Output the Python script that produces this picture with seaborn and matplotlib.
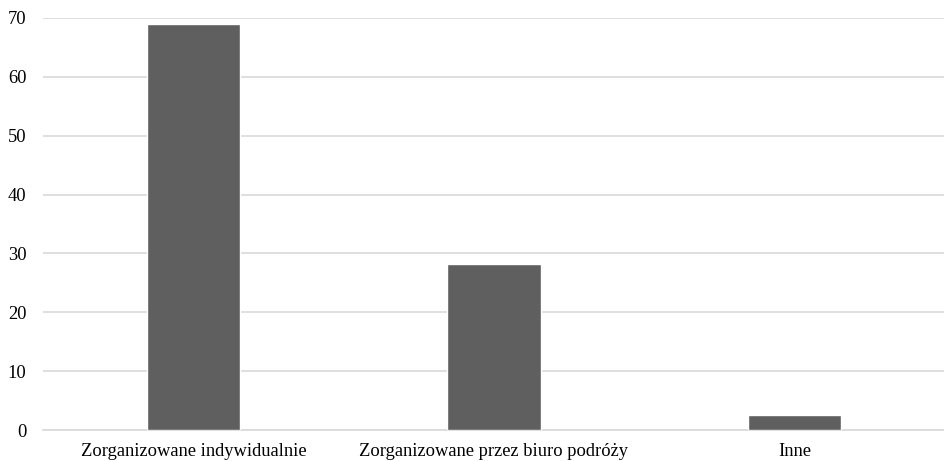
import matplotlib
matplotlib.use("Agg")
import matplotlib.pyplot as plt
import seaborn as sns
import pandas as pd

categories = ["Zorganizowane indywidualnie", "Zorganizowane przez biuro podróży", "Inne"]
values = [69.0, 28.2, 2.5]
yticks = [0, 10, 20, 30, 40, 50, 60, 70]

sns.set_theme(style="white")
plt.rcParams["font.family"] = ["Liberation Serif", "DejaVu Serif"]

df = pd.DataFrame({"kategoria": categories, "wartosc": values})

fig = plt.figure(figsize=(9.45, 4.61), dpi=100)
ax = fig.add_axes([0.0455, 0.0672, 0.9545, 0.8938])
sns.barplot(data=df, x="kategoria", y="wartosc", color="#5f5f5f",
            width=0.31, saturation=1, ax=ax, zorder=3)
ax.set_ylim(0, 70)
ax.set_yticks(yticks)
ax.set_xlim(-0.5, 2.5)
ax.yaxis.grid(True, color="#d9d9d9", linewidth=1.2, zorder=0)
ax.set_axisbelow(True)
for s in ["top", "right", "left"]:
    ax.spines[s].set_visible(False)
ax.spines["bottom"].set_color("#d9d9d9")
ax.spines["bottom"].set_linewidth(1.2)
ax.set_xlabel("")
ax.set_ylabel("")
ax.tick_params(axis="both", length=0, labelsize=13.3, colors="black")
ax.tick_params(axis="x", pad=9)
ax.tick_params(axis="y", pad=12)
fig.savefig("out.png", dpi=100)
